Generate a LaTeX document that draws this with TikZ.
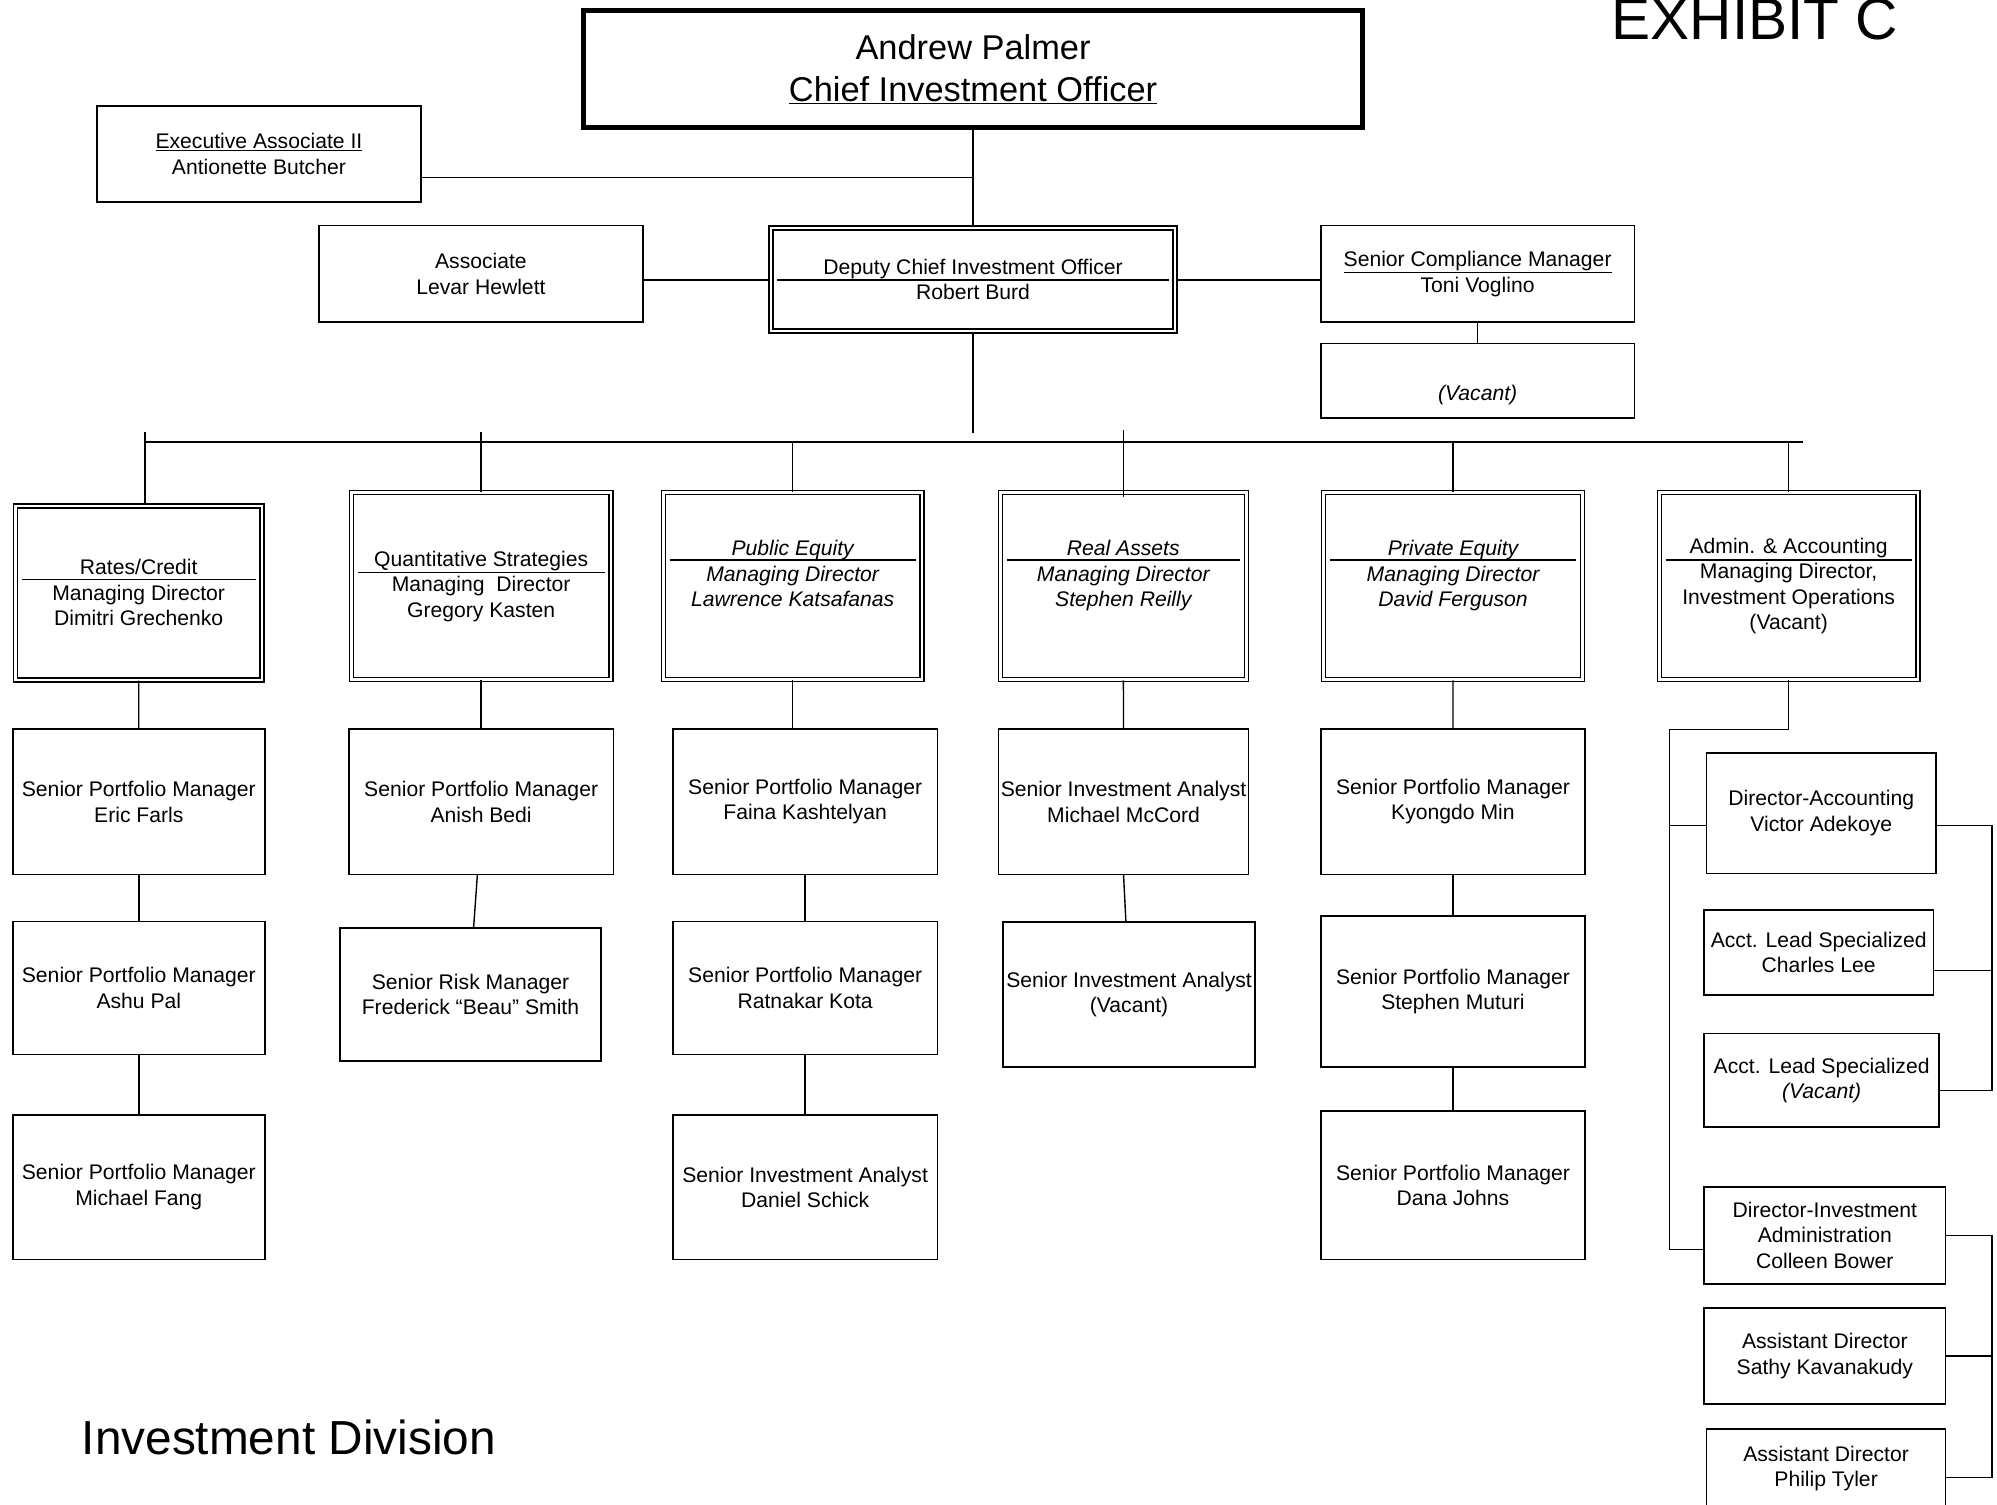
\documentclass[tikz,border=0pt]{standalone}
\usepackage{fontspec}
\setmainfont{Liberation Sans}
\begin{document}
\begin{tikzpicture}[x=1pt, y=-1pt,
  box/.style={draw, line width=1.3pt, rectangle, align=center, inner sep=0pt, font=\fontsize{16.6}{20}\selectfont},
  dbox/.style={box, double, line width=1.1pt, double distance=2pt},
  ital/.style={font=\fontsize{16.6}{20}\selectfont\itshape},
  splitline/.style={line width=1.2pt, shorten <=5.5pt, shorten >=5.5pt},
  link/.style={line width=1.1pt}]
\useasboundingbox (0,0) rectangle (1568,1181);
\node[anchor=base, inner sep=0pt, font=\fontsize{46}{50}\selectfont] (exhibit) at (1378,31) {EXHIBIT C};
\node[anchor=base west, inner sep=0pt, font=\fontsize{37.5}{40}\selectfont] (division) at (64,1142) {Investment Division};
\node[box, line width=3.5pt, font=\fontsize{27}{33}\selectfont, minimum width=611.5pt, minimum height=92pt] (cio) at (764,54.2) {Andrew Palmer\\\underline{Chief Investment Officer}};
\node[box, minimum width=254.4pt, minimum height=75.6pt] (exec) at (203.3,120.8) {\underline{Executive Associate II}\\Antionette Butcher};
\node[box, minimum width=254.4pt, minimum height=76pt] (assoc) at (377.6,215) {Associate\\Levar Hewlett};
\node[dbox, minimum width=317pt, minimum height=81pt] (deputy) at (764,219.5) {Deputy Chief Investment Officer\\Robert Burd};
\node[box, minimum width=246.5pt, minimum height=75.8pt] (compl) at (1160.2,215) {\underline{Senior Compliance Manager}\\Toni Voglino};
\node[box, minimum width=246.5pt, minimum height=58.4pt] (vacc) at (1160.2,298.8) {\strut\\\textit{(Vacant)}};
\draw[splitline] (deputy.west |- 0,220) -- (deputy.east |- 0,220);
\draw[link] (cio.south) -- (deputy.north);
\draw[link] (exec.east |- 0,139.5) -- (cio.south |- 0,139.5);
\draw[link] (assoc.east |- 0,220) -- (deputy.west |- 0,220);
\draw[link] (deputy.east |- 0,220) -- (compl.west |- 0,220);
\draw[link] (compl) -- (vacc);
\coordinate (busTop) at (764,340);
\coordinate (busL) at (114,347);
\coordinate (busR) at (1416,347);
\draw[link] (deputy) -- (busTop);
\draw[link] (busL) -- (busR);
\node[dbox, minimum width=193.8pt, minimum height=136.6pt] (rates) at (108.9,465.5) {Rates/Credit\\Managing Director\\Dimitri Grechenko};
\node[dbox, minimum width=203.7pt, minimum height=147pt] (quant) at (377.8,460.2) {Quantitative Strategies\\Managing~ Director\\Gregory Kasten};
\node[dbox, ital, minimum width=203.2pt, minimum height=147pt] (pubeq) at (622.4,460.2) {Public Equity\\Managing Director\\Lawrence Katsafanas\\~};
\node[dbox, ital, minimum width=193pt, minimum height=147pt] (realas) at (882,460.2) {Real Assets\\Managing Director\\Stephen Reilly\\~};
\node[dbox, ital, minimum width=203.2pt, minimum height=147pt] (priveq) at (1140.9,460.2) {Private Equity\\Managing Director\\David Ferguson\\~};
\node[dbox, minimum width=203pt, minimum height=147pt] (admin) at (1404.4,460.2) {Admin. \& Accounting\\Managing Director,\\Investment Operations\\(Vacant)};
\draw[splitline] (rates.west |- 0,455) -- (rates.east |- 0,455);
\draw[splitline] (quant.west |- 0,449.5) -- (quant.east |- 0,449.5);
\draw[splitline] (pubeq.west |- 0,439.5) -- (pubeq.east |- 0,439.5);
\draw[splitline] (realas.west |- 0,439.5) -- (realas.east |- 0,439.5);
\draw[splitline] (priveq.west |- 0,439.5) -- (priveq.east |- 0,439.5);
\draw[splitline] (admin.west |- 0,439.5) -- (admin.east |- 0,439.5);
\coordinate (tRates) at (114,339);
\coordinate (tQuant) at (377.8,339);
\coordinate (tReal) at (882,338);
\draw[link] (tRates) -- (tRates |- rates.north);
\draw[link] (tQuant) -- (quant.north);
\draw[link] (pubeq.north |- busL) -- (pubeq.north);
\draw[link] (tReal) -- ([yshift=-4pt]realas.north);
\draw[link] (priveq.north |- busL) -- (priveq.north);
\draw[link] (admin.north |- busL) -- (admin.north);
\node[box, minimum width=198pt, minimum height=114pt] (farls) at (109,629.5) {Senior Portfolio Manager\\Eric Farls};
\node[box, minimum width=198pt, minimum height=104.4pt] (ashu) at (109,775.8) {Senior Portfolio Manager\\Ashu Pal};
\node[box, minimum width=198pt, minimum height=113.7pt] (fang) at (109,932.2) {Senior Portfolio Manager\\Michael Fang};
\draw[link] (rates) -- (farls);
\draw[link] (farls) -- (ashu);
\draw[link] (ashu) -- (fang);
\node[box, minimum width=207.7pt, minimum height=114pt] (bedi) at (377.8,629.5) {Senior Portfolio Manager\\Anish Bedi};
\node[box, minimum width=204.7pt, minimum height=104.4pt] (fred) at (369.4,780.8) {Senior Risk Manager\\Frederick “Beau” Smith};
\draw[link] (quant) -- (bedi);
\draw[link] ([xshift=-3pt]bedi.south) -- ([xshift=2.5pt]fred.north);
\node[box, minimum width=207.6pt, minimum height=114pt] (faina) at (632.2,629.5) {Senior Portfolio Manager\\Faina Kashtelyan};
\node[box, minimum width=207.6pt, minimum height=104.4pt] (ratna) at (632.2,775.8) {Senior Portfolio Manager\\Ratnakar Kota};
\node[box, minimum width=207.6pt, minimum height=113.7pt] (schick) at (632.2,932.2) {Senior Investment Analyst\\Daniel Schick};
\draw[link] (pubeq.south) -- (pubeq.south |- faina.north);
\draw[link] (faina) -- (ratna);
\draw[link] (ratna) -- (schick);
\node[box, minimum width=196.4pt, minimum height=114pt] (mccord) at (882.2,629.5) {Senior Investment Analyst\\Michael McCord};
\node[box, minimum width=197.8pt, minimum height=113.7pt] (vacana) at (886.5,780.8) {Senior Investment Analyst\\(Vacant)};
\draw[link] (realas) -- (mccord);
\draw[link] (mccord.south) -- ([xshift=-2.5pt]vacana.north);
\node[box, minimum width=207.5pt, minimum height=114pt] (kmin) at (1140.8,629.5) {Senior Portfolio Manager\\Kyongdo Min};
\node[box, minimum width=207.5pt, minimum height=118.4pt] (muturi) at (1140.8,778.4) {Senior Portfolio Manager\\Stephen Muturi};
\node[box, minimum width=207.5pt, minimum height=116.5pt] (johns) at (1140.8,930.8) {Senior Portfolio Manager\\Dana Johns};
\draw[link] (priveq) -- (kmin);
\draw[link] (kmin) -- (muturi);
\draw[link] (muturi) -- (johns);
\node[box, minimum width=180pt, minimum height=94.7pt] (diracc) at (1430,638.4) {Director-Accounting\\Victor Adekoye};
\node[box, minimum width=180pt, minimum height=66.5pt] (lee) at (1428,747.8) {Acct. Lead Specialized\\Charles Lee};
\node[box, minimum width=184.6pt, minimum height=73.5pt] (acctv) at (1430.3,848.2) {Acct. Lead Specialized\\\textit{(Vacant)}};
\node[box, minimum width=189.6pt, minimum height=76pt] (dirinv) at (1432.8,970) {Director-Investment\\Administration\\Colleen Bower};
\node[box, minimum width=189.6pt, minimum height=75.6pt] (sathy) at (1432.8,1064.8) {Assistant Director\\Sathy Kavanakudy};
\node[box, minimum width=187.6pt, minimum height=62pt] (tyler) at (1433.8,1153) {Assistant Director\\Philip Tyler};
\coordinate (acL) at (1311,573);
\coordinate (acR) at (1564,648);
\coordinate (adR) at (1564,970);
\draw[link] (admin.south) |- (acL) -- (acL |- 0,981) -- (dirinv.west |- 0,981);
\draw[link] (acL |- 0,648) -- (diracc.west |- 0,648);
\draw[link] (diracc.east |- acR) -- (acR) -- (acR |- 0,856) -- (acctv.east |- 0,856);
\draw[link] (lee.east |- 0,762) -- (acR |- 0,762);
\draw[link] (dirinv.east |- adR) -- (adR) -- (adR |- 0,1160) -- (tyler.east |- 0,1160);
\draw[link] (sathy.east) -- (adR |- sathy.east);
\end{tikzpicture}
\end{document}
